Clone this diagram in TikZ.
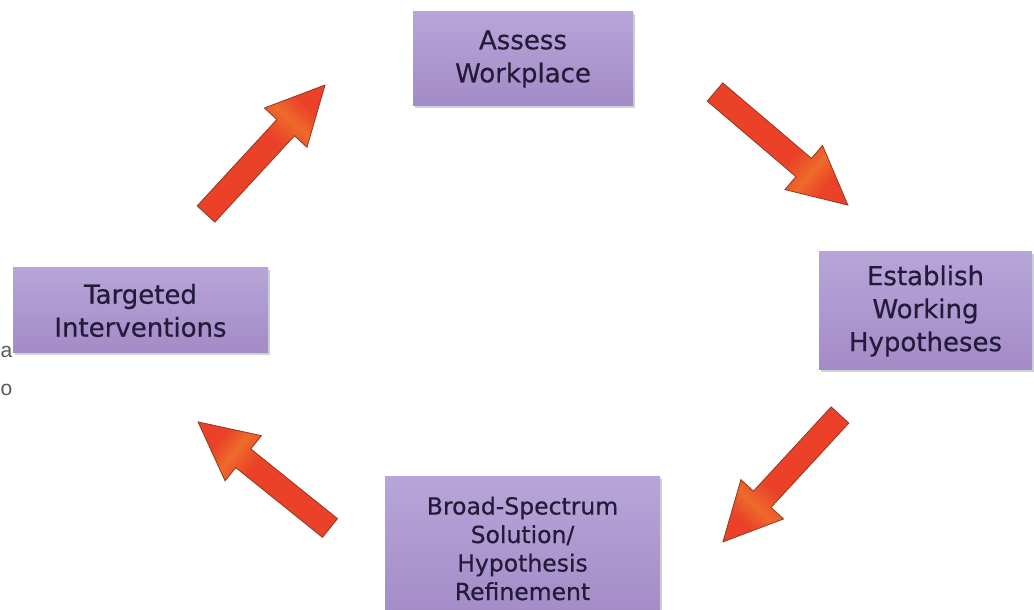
\documentclass[tikz,border=0pt]{standalone}
\usepackage{fontspec}
\setmainfont{DejaVu Sans}
\newfontfamily\boxfont[FakeBold=0.5]{DejaVu Sans}
\newfontfamily\strayfont{Liberation Sans}
\usetikzlibrary{shadows}
\definecolor{boxtop}{HTML}{B7A5D8}
\definecolor{boxbot}{HTML}{A38BC7}
\definecolor{boxtext}{HTML}{241B3A}
\definecolor{arrowred}{HTML}{EA4128}
\definecolor{arroworange}{HTML}{EE6A2C}
\definecolor{arrowedge}{HTML}{8F3A22}
\pgfdeclarehorizontalshading{arrowshade}{100bp}{color(0bp)=(arrowred); color(25bp)=(arrowred); color(54bp)=(arrowred); color(61bp)=(arroworange); color(67bp)=(arrowred); color(100bp)=(arrowred)}
\tikzset{
  stepbox/.style={rectangle, inner sep=0pt, align=center, text=boxtext,
    top color=boxtop, bottom color=boxbot,
    drop shadow={shadow xshift=1.5pt, shadow yshift=-2.5pt, opacity=0.18, fill=black}},
  bigtext/.style={font=\boxfont\fontsize{26}{33}\selectfont},
  smalltext/.style={font=\boxfont\fontsize{23.5}{28.5}\selectfont},
  arrowbody/.style={shading=arrowshade, shading angle=0, draw=arrowedge, line width=0.8pt, line join=miter},
  stray/.style={text=black!65, font=\strayfont\fontsize{21}{24}\selectfont, inner sep=0pt}
}
\newcommand\blockarrow[4]{%
  \begin{scope}[transform canvas={shift={(#1,#2)},rotate=#3}]
    \path[arrowbody] (0,-12) -- ({#4-58},-12) -- ({#4-58},-29) -- (#4,0)
      -- ({#4-58},29) -- ({#4-58},12) -- (0,12) -- cycle;
  \end{scope}}
\begin{document}
\begin{tikzpicture}[x=1pt,y=1pt]
\useasboundingbox (0,0) rectangle (1034,610);
\fill[white] (0,0) rectangle (1034,610);
\clip (0,0) rectangle (1034,610);

\node[stepbox, bigtext, minimum width=220, minimum height=94] (assess) at (523,551) {Assess\\Workplace};
\node[stepbox, bigtext, minimum width=213, minimum height=118] (establish) at (925.5,299) {Establish\\Working\\Hypotheses};
\node[stepbox, smalltext, minimum width=275, minimum height=143] (broad) at (522.5,61.5) {Broad-Spectrum\\Solution/\\Hypothesis\\Refinement};
\node[stepbox, bigtext, minimum width=255, minimum height=85] (targeted) at (140.5,299.5) {Targeted\\Interventions};

\node[stray, anchor=base west] (stra) at (0.5,252) {a};
\node[stray, anchor=base west] (stro) at (0.5,214) {o};

\blockarrow{715}{518}{-40.4}{174.5}
\blockarrow{840}{195}{-132.7}{172.7}
\blockarrow{330}{82}{141.2}{169.3}
\blockarrow{206}{396}{47.3}{175.5}
\end{tikzpicture}
\end{document}
